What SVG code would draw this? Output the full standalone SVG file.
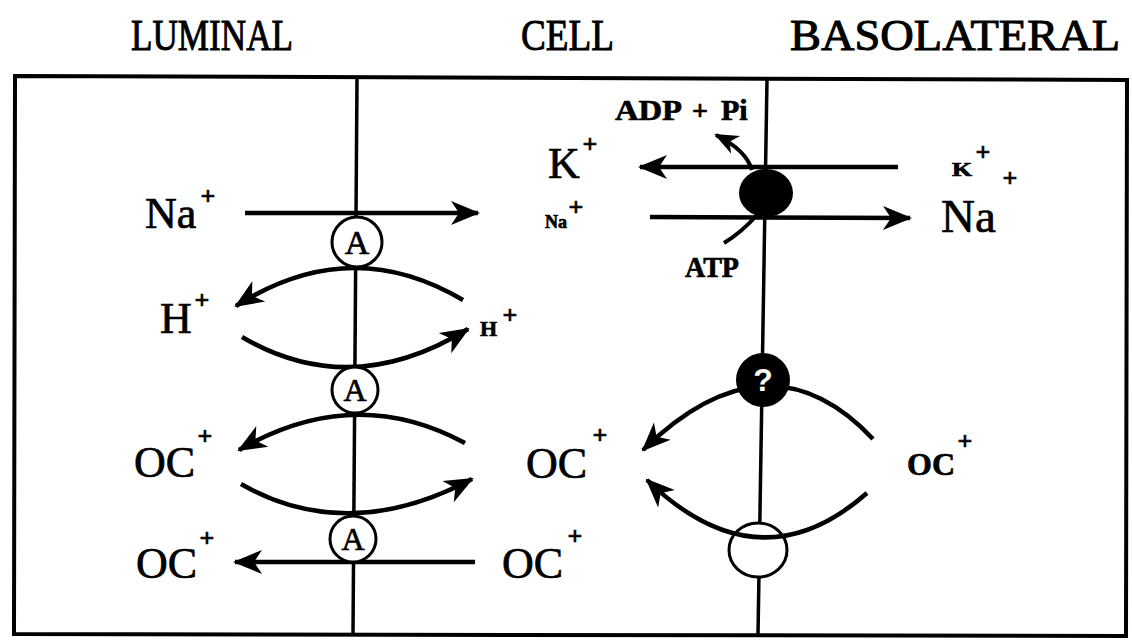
<svg xmlns="http://www.w3.org/2000/svg" width="1132" height="641" viewBox="0 0 1132 641">
  <style>
    .t { font-family: "Liberation Serif", "Times New Roman", serif; fill: #000; stroke: #000; stroke-width: 0.7; }
    .big { font-size: 44px; }
    .hdr { font-size: 44px; stroke-width: 1; }
    .sup { font-size: 26px; font-weight: bold; text-anchor: middle; }
    .mem { stroke: #000; stroke-width: 3.5; fill: none; }
    .arr { stroke: #000; stroke-width: 4.5; fill: none; marker-end: url(#ah); }
    .ring { stroke: #000; stroke-width: 3; fill: #fff; }
  </style>
  <defs>
    <marker id="ah" markerUnits="userSpaceOnUse" viewBox="-28 -13 30 26" refX="0" refY="0" markerWidth="30" markerHeight="26" orient="auto">
      <path d="M2,0 L-27,-12 L-19,0 L-27,12 Z" fill="#000"/>
    </marker>
    <marker id="ahs" markerUnits="userSpaceOnUse" viewBox="-24 -11 26 22" refX="0" refY="0" markerWidth="26" markerHeight="22" orient="auto">
      <path d="M2,0 L-22,-10 L-15,0 L-22,10 Z" fill="#000"/>
    </marker>
  </defs>
  <rect width="1132" height="641" fill="#fff"/>

  <g id="headers">
    <text class="t hdr" x="131" y="50" textLength="162" lengthAdjust="spacingAndGlyphs">LUMINAL</text>
    <text class="t hdr" x="521" y="50" textLength="93" lengthAdjust="spacingAndGlyphs">CELL</text>
    <text class="t hdr" x="790" y="50" textLength="330" lengthAdjust="spacingAndGlyphs">BASOLATERAL</text>
  </g>

  <g id="frame">
    <path d="M15,76 L1127,80 L1126,636 L14,634 Z" fill="none" stroke="#000" stroke-width="4"/>
  </g>

  <g id="membranes">
    <path class="mem" d="M357,78 L353,634"/>
    <path class="mem" d="M767,79 L758,635"/>
  </g>

  <g id="connectors">
    <path class="arr" d="M245,213 L478,213"/>
    <path class="arr" d="M463,300 Q350,233 236,306"/>
    <path class="arr" d="M242,337 Q351,401 468,329"/>
    <path class="arr" d="M465,443 Q354,383 239,450"/>
    <path class="arr" d="M241,484 Q348,545 472,479"/>
    <path class="arr" d="M475,562 L235,562"/>
    <path class="arr" d="M898,167 L640,167"/>
    <path class="arr" d="M650,217 L910,218"/>
    <path d="M752,170 Q746,150 716,135" stroke="#000" stroke-width="4" fill="none" marker-end="url(#ahs)"/>
    <path d="M757,215 Q742,232 724,243" stroke="#000" stroke-width="4" fill="none"/>
    <path class="arr" d="M873,439 Q768,328 643,450"/>
  </g>

  <g id="transporter-A1">
    <circle class="ring" cx="357" cy="242" r="25"/>
    <text class="t" x="357" y="254" font-size="34" text-anchor="middle">A</text>
  </g>
  <g id="transporter-A2">
    <circle class="ring" cx="355" cy="390" r="23"/>
    <text class="t" x="355" y="401" font-size="32" text-anchor="middle">A</text>
  </g>
  <g id="transporter-A3">
    <circle class="ring" cx="353" cy="539" r="23"/>
    <text class="t" x="353" y="550" font-size="32" text-anchor="middle">A</text>
  </g>

  <g id="pump">
    <ellipse cx="766" cy="193" rx="27" ry="24" fill="#000"/>
  </g>

  <g id="unknown-transporter">
    <circle cx="763" cy="380" r="27" fill="#000"/>
    <text x="763" y="391" font-family="'Liberation Sans', Arial, sans-serif" font-size="32" font-weight="bold" fill="#fff" text-anchor="middle">?</text>
  </g>

  <g id="carrier-empty">
    <ellipse class="ring" cx="758" cy="550" rx="29" ry="27"/>
    <path class="arr" d="M867,493 Q759,588 647,480"/>
  </g>

  <g id="labels">
    <text class="t big" x="145" y="228">Na</text>
    <text class="t sup" x="208" y="205">+</text>

    <text class="t big" x="160" y="333">H</text>
    <text class="t sup" x="202" y="309">+</text>

    <text class="t big" x="134" y="477">OC</text>
    <text class="t sup" x="205" y="445">+</text>

    <text class="t big" x="136" y="578">OC</text>
    <text class="t sup" x="207" y="547">+</text>

    <text class="t" x="480" y="336" font-size="22" font-weight="bold">H</text>
    <text class="t sup" x="510" y="324" font-size="20">+</text>

    <text class="t big" x="526" y="478">OC</text>
    <text class="t sup" x="600" y="444">+</text>

    <text class="t big" x="502" y="578">OC</text>
    <text class="t sup" x="575" y="545">+</text>

    <text class="t" x="548" y="178" font-size="44">K</text>
    <text class="t sup" x="590" y="153">+</text>

    <text class="t" x="545" y="228" font-size="18" font-weight="bold">Na</text>
    <text class="t sup" x="576" y="216" font-size="20">+</text>

    <g id="adp-pi">
      <text class="t" x="615" y="120" font-size="30" font-weight="bold" textLength="67" lengthAdjust="spacingAndGlyphs">ADP</text>
      <text class="t" x="700" y="120" font-size="28" font-weight="bold" text-anchor="middle">+</text>
      <text class="t" x="721" y="120" font-size="30" font-weight="bold">Pi</text>
    </g>
    <text class="t" x="685" y="277" font-size="29" font-weight="bold" textLength="54" lengthAdjust="spacingAndGlyphs">ATP</text>

    <text class="t" x="952" y="176" font-size="18" font-weight="bold" textLength="20" lengthAdjust="spacingAndGlyphs">K</text>
    <text class="t sup" x="983" y="161" font-size="22">+</text>

    <text class="t" x="941" y="232" font-size="47">Na</text>
    <text class="t sup" x="1010" y="187">+</text>

    <text class="t" x="907" y="475" font-size="32" font-weight="bold">OC</text>
    <text class="t sup" x="965" y="450">+</text>
  </g>
</svg>
